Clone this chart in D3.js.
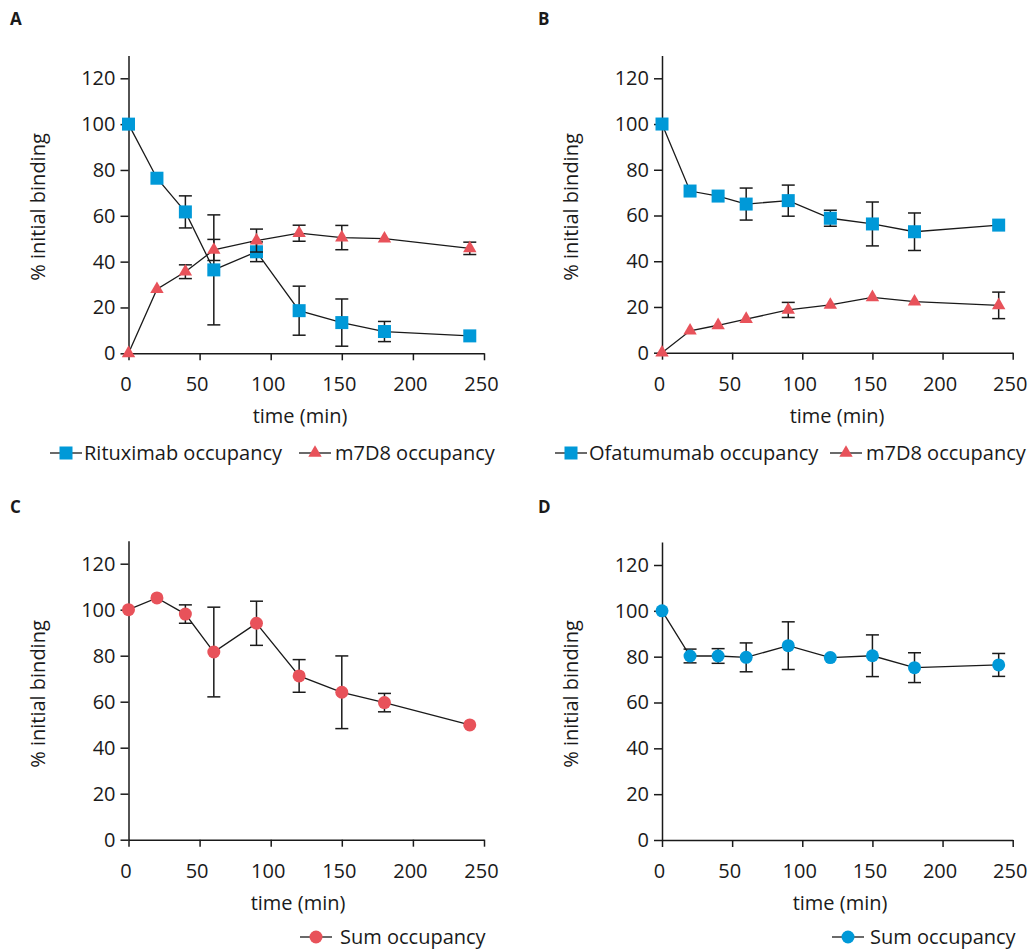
<!DOCTYPE html>
<html>
<head>
<meta charset="utf-8">
<script src="https://cdn.jsdelivr.net/npm/d3@7"></script>
<style>
  body { margin: 0; background: #fff; }
  text { font-family: "Open Sans", "Noto Sans", sans-serif; fill: #1a1a1a; }
</style>
</head>
<body>
<svg id="chart" width="1032" height="949"></svg>
<script>
// time points (min)
const times = [0, 20, 40, 60, 90, 120, 150, 180, 240];
const xTicks = [0, 50, 100, 150, 200, 250];
const yTicks = [0, 20, 40, 60, 80, 100, 120];

// panel A
const rituximab    = [100, 76.4, 61.7, 36.4, 44.3, 18.6, 13.4, 9.5, 7.6];
const rituximabErr = [0, 0, 7, 24, 4.3, 10.7, 10.3, 4.4, 0];
const m7d8A        = [0, 28, 35.6, 45.1, 49.2, 52.4, 50.5, 50, 45.8];
const m7d8AErr     = [0, 0, 3, 4.6, 5, 3.5, 5.3, 0, 2.7];

// panel B
const ofatumumab    = [100, 70.7, 68.5, 65, 66.5, 58.8, 56.3, 52.9, 55.8];
const ofatumumabErr = [0, 0, 0, 7, 6.8, 3.5, 9.6, 8.2, 0];
const m7d8B         = [0, 9.6, 12, 14.7, 18.7, 20.9, 24.2, 22.3, 20.7];
const m7d8BErr      = [0, 0, 0, 0, 3.3, 0, 0, 0, 5.8];

// panel C and D (sum occupancy)
const sumC    = [100, 105.1, 98.1, 81.6, 94.1, 71.2, 64.1, 59.6, 49.9];
const sumCErr = [0, 0, 4, 19.5, 9.6, 7.1, 15.8, 4, 0];
const sumD    = [100, 80.3, 80.3, 79.7, 84.8, 79.6, 80.4, 75.2, 76.4];
const sumDErr = [0, 3, 3.2, 6.3, 10.4, 0, 9.1, 6.5, 5];

const blue = "#0099d8";
const red = "#e8525a";
const fontSize = 20;

const svg = d3.select("#chart");

const panels = [
  { letter: "A", lx: 10, ly: 25, x0: 128.5, x1: 484, y0: 353.3, y120: 78.3,
    yTitleX: 45, yTitleY: 207, xTitleX: 300, xTitleY: 423,
    series: [
      { name: "Rituximab occupancy", values: rituximab, err: rituximabErr, color: blue, shape: "square" },
      { name: "m7D8 occupancy", values: m7d8A, err: m7d8AErr, color: red, shape: "triangle" }
    ],
    legendY: 453, legend: [{ lineX: 50, textX: 84 }, { lineX: 299, textX: 335 }] },
  { letter: "B", lx: 538, ly: 25, x0: 662, x1: 1012.7, y0: 352.7, y120: 78.3,
    yTitleX: 578, yTitleY: 207, xTitleX: 837, xTitleY: 423,
    series: [
      { name: "Ofatumumab occupancy", values: ofatumumab, err: ofatumumabErr, color: blue, shape: "square" },
      { name: "m7D8 occupancy", values: m7d8B, err: m7d8BErr, color: red, shape: "triangle" }
    ],
    legendY: 453, legend: [{ lineX: 555, textX: 589 }, { lineX: 830, textX: 866 }] },
  { letter: "C", lx: 10, ly: 513, x0: 128.5, x1: 484, y0: 839.7, y120: 563.7,
    yTitleX: 45, yTitleY: 694, xTitleX: 298, xTitleY: 910,
    series: [
      { name: "Sum occupancy", values: sumC, err: sumCErr, color: red, shape: "circle" }
    ],
    legendY: 937, legend: [{ lineX: 300, textX: 340 }] },
  { letter: "D", lx: 538, ly: 513, x0: 662, x1: 1012.7, y0: 840, y120: 565,
    yTitleX: 578, yTitleY: 694, xTitleX: 840, xTitleY: 910,
    series: [
      { name: "Sum occupancy", values: sumD, err: sumDErr, color: blue, shape: "circle" }
    ],
    legendY: 937, legend: [{ lineX: 832, textX: 870 }] }
];

const drawMarker = (sel, shape, color) => {
  if (shape === "circle") {
    sel.append("circle").attr("r", 6.5).attr("fill", color);
  } else if (shape === "square") {
    sel.append("rect").attr("x", -6.5).attr("y", -6.5).attr("width", 13).attr("height", 13).attr("fill", color);
  } else {
    sel.append("path").attr("d", d3.symbol(d3.symbolTriangle, 78)()).attr("fill", color);
  }
};

panels.forEach(p => {
  let x = d3.scaleLinear().domain([0, 250]).range([p.x0, p.x1]);
  let yPerUnit = (p.y0 - p.y120) / 120;
  let y = d3.scaleLinear().domain([0, 130]).range([p.y0, p.y0 - 130 * yPerUnit]);

  let g = svg.append("g");

  g.append("text")
    .text(p.letter)
    .attr("x", p.lx).attr("y", p.ly)
    .attr("font-size", 17).attr("font-weight", "bold");

  // axes
  let xAxis = g.append("g")
    .attr("transform", "translate(0," + p.y0 + ")")
    .call(d3.axisBottom(x).tickValues(xTicks).tickSize(7).tickSizeOuter(0).tickPadding(17));
  let yAxis = g.append("g")
    .attr("transform", "translate(" + p.x0 + ",0)")
    .call(d3.axisLeft(y).tickValues(yTicks).tickSize(8).tickSizeOuter(0).tickPadding(5));
  [xAxis, yAxis].forEach(a => {
    a.attr("font-size", fontSize).attr("font-family", null);
    a.selectAll("path, line").attr("stroke", "#1a1a1a").attr("stroke-width", 1.5);
    a.selectAll("text").attr("font-size", fontSize).attr("fill", "#1a1a1a");
  });
  xAxis.selectAll("text").attr("dx", -3);

  g.append("text")
    .text("time (min)")
    .attr("x", p.xTitleX).attr("y", p.xTitleY)
    .attr("text-anchor", "middle").attr("font-size", fontSize);

  g.append("text")
    .text("% initial binding")
    .attr("transform", "translate(" + p.yTitleX + "," + p.yTitleY + ") rotate(-90)")
    .attr("text-anchor", "middle").attr("font-size", fontSize);

  // series
  p.series.forEach(s => {
    let pts = times.map((t, i) => ({ t: t, v: s.values[i], e: s.err[i] }));
    let sg = g.append("g");

    sg.append("path")
      .datum(pts)
      .attr("fill", "none")
      .attr("stroke", "#1a1a1a")
      .attr("stroke-width", 1.3)
      .attr("d", d3.line().x(d => x(d.t)).y(d => y(d.v)));

    let eb = sg.selectAll(".err")
      .data(pts.filter(d => d.e > 0))
      .enter().append("g")
      .attr("class", "err")
      .attr("stroke", "#1a1a1a")
      .attr("stroke-width", 1.5);
    eb.append("line")
      .attr("x1", d => x(d.t)).attr("x2", d => x(d.t))
      .attr("y1", d => y(d.v + d.e)).attr("y2", d => y(d.v - d.e));
    eb.append("line")
      .attr("x1", d => x(d.t) - 6.5).attr("x2", d => x(d.t) + 6.5)
      .attr("y1", d => y(d.v + d.e)).attr("y2", d => y(d.v + d.e));
    eb.append("line")
      .attr("x1", d => x(d.t) - 6.5).attr("x2", d => x(d.t) + 6.5)
      .attr("y1", d => y(d.v - d.e)).attr("y2", d => y(d.v - d.e));

    sg.selectAll(".mk")
      .data(pts)
      .enter().append("g")
      .attr("class", "mk")
      .attr("transform", d => "translate(" + x(d.t) + "," + y(d.v) + ")")
      .each(function () { drawMarker(d3.select(this), s.shape, s.color); });
  });

  // legend
  p.series.forEach((s, i) => {
    let l = p.legend[i];
    let lg = g.append("g").attr("transform", "translate(" + l.lineX + "," + p.legendY + ")");
    lg.append("line")
      .attr("x1", 0).attr("x2", 32).attr("y1", 0).attr("y2", 0)
      .attr("stroke", "#1a1a1a").attr("stroke-width", 1.3);
    let m = lg.append("g").attr("transform", "translate(16,0)");
    drawMarker(m, s.shape, s.color);
    lg.append("text")
      .text(s.name)
      .attr("x", l.textX - l.lineX).attr("y", 0).attr("dy", "0.35em")
      .attr("font-size", fontSize);
  });
});
</script>
</body>
</html>
